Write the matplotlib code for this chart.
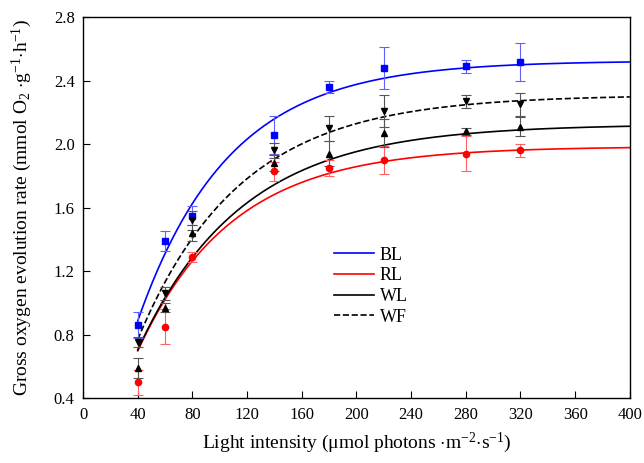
import numpy as np
import matplotlib
matplotlib.use("Agg")
import matplotlib.pyplot as plt

plt.rcParams['font.family'] = ['Liberation Serif', 'DejaVu Serif']
plt.rcParams['mathtext.fontset'] = 'custom'
plt.rcParams['mathtext.rm'] = 'Liberation Serif'
plt.rcParams['mathtext.it'] = 'Liberation Serif:italic'

light = [40, 60, 80, 140, 180, 220, 280, 320]
series = ["BL", "RL", "WL", "WF"]
BL = [0.86, 1.39, 1.55, 2.06, 2.36, 2.48, 2.49, 2.52]
BL_err = [0.08, 0.065, 0.06, 0.12, 0.04, 0.13, 0.04, 0.12]
RL = [0.50, 0.85, 1.29, 1.83, 1.85, 1.90, 1.94, 1.96]
RL_err = [0.08, 0.11, 0.03, 0.06, 0.05, 0.09, 0.11, 0.04]
WL = [0.59, 0.97, 1.44, 1.88, 1.94, 2.07, 2.08, 2.11]
WL_err = [0.06, 0.03, 0.05, 0.05, 0.08, 0.09, 0.02, 0.06]
WF = [0.755, 1.06, 1.52, 1.96, 2.10, 2.21, 2.27, 2.25]
WF_err = [0.03, 0.04, 0.06, 0.05, 0.08, 0.10, 0.04, 0.07]

# fitted curve parameters (P = Pmax - (Pmax - P40) * exp(-k (I - 40)))
curve_pmax = [2.525, 1.985, 2.125, 2.31]
curve_p40 = [0.887, 0.698, 0.704, 0.77]
curve_k = [0.0150, 0.0145, 0.0132, 0.0134]

colors = ["#0000ff", "#ff0000", "#000000", "#000000"]
err_colors = ["#6060ff", "#ff6060", "#555555", "#555555"]
markers = ["s", "o", "^", "v"]
linestyles = ["-", "-", "-", "--"]
ydata = [BL, RL, WL, WF]
yerrs = [BL_err, RL_err, WL_err, WF_err]

fig = plt.figure(figsize=(6.44, 4.63), dpi=100)
ax = fig.add_axes([0.129, 0.140, 0.849, 0.823])

xs = np.linspace(40, 400, 300)
for i, name in enumerate(series):
    yc = curve_pmax[i] - (curve_pmax[i] - curve_p40[i]) * np.exp(-curve_k[i] * (xs - 40))
    ax.plot(xs, yc, color=colors[i], ls=linestyles[i], lw=1.2, label=name, zorder=2)
for i, name in enumerate(series):
    ax.errorbar(light, ydata[i], yerr=yerrs[i], fmt=markers[i], color=colors[i],
                ecolor=err_colors[i], elinewidth=0.8, capsize=3.5, capthick=0.8,
                markersize=4.5, zorder=3)

ax.set_xlim(0, 400)
ax.set_ylim(0.4, 2.8)
ax.set_xticks(np.arange(0, 401, 40))
ax.set_yticks([0.4, 0.8, 1.2, 1.6, 2.0, 2.4, 2.8])
ax.set_yticklabels(["0.4", "0.8", "1.2", "1.6", "2.0", "2.4", "2.8"])
ax.tick_params(direction='in', length=5, labelsize=12, top=False, right=False, pad=6)
for sp in ax.spines.values():
    sp.set_linewidth(1.0)

ax.set_xlabel(r"Light intensity (μmol photons $\cdot$m$^{-2}$$\cdot$s$^{-1}$)", fontsize=14, labelpad=6)
ax.set_ylabel(r"Gross oxygen evolution rate (mmol O$_2$ $\cdot$g$^{-1}$$\cdot$h$^{-1}$)", fontsize=14, labelpad=14)

ax.legend(loc='upper left', bbox_to_anchor=(0.43, 0.44), frameon=False, fontsize=13,
          handlelength=2.2, handletextpad=0.3, labelspacing=0.2)

fig.savefig("out.png", dpi=100)
